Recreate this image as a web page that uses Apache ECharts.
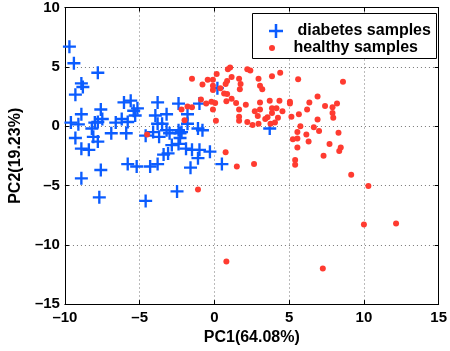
<!DOCTYPE html>
<html><head><meta charset="utf-8">
<script src="https://cdn.jsdelivr.net/npm/echarts@6/dist/echarts.min.js"></script>
<style>html,body{margin:0;padding:0;background:#fff}#c{width:450px;height:351px}</style>
</head><body><div id="c"></div>
<script>
const seriesNames = ['diabetes samples', 'healthy samples'];
const xTicks = [-10, -5, 0, 5, 10, 15];
const yTicks = [-15, -10, -5, 0, 5, 10];
const xName = 'PC1(64.08%)';
const yName = 'PC2(19.23%)';

const diabetes = [
  [-9.7,6.7],[-9.4,5.3],[-7.8,4.5],[-8.9,3.6],[-8.8,3.3],[-9.3,2.65],[-8.9,1.0],[-7.6,1.4],
  [-9.6,0.3],[-9.1,0.15],[-9.3,-1.0],[-8.9,-1.9],[-8.4,-2.0],[-8.2,-0.2],[-8.0,0.3],[-7.8,0.35],
  [-7.5,0.6],[-8.1,-0.9],[-7.8,-1.3],[-6.9,-0.6],[-6.6,0.3],[-6.2,0.6],[-6.05,2.0],[-5.6,2.15],
  [-5.4,1.3],[-5.8,0.35],[-5.9,-0.6],[-8.9,-4.4],[-7.6,-3.7],[-7.7,-6.0],[-5.8,-3.2],[-5.2,-3.4],
  [-4.3,-3.4],[-3.8,-3.2],[-4.6,-6.3],[-2.5,-5.5],[-3.8,2.0],[-2.4,1.9],[-1.0,1.9],[-3.95,0.9],
  [-3.2,1.0],[-3.8,0.2],[-4.1,-0.5],[-3.2,-0.35],[-2.4,-0.35],[-2.3,-0.6],[-2.4,-1.5],[-1.8,0.2],
  [-1.1,-0.2],[-0.8,-0.35],[-4.6,-0.8],[-3.7,-0.9],[-3.1,-2.3],[-3.4,-2.4],[-1.9,-1.9],[-1.5,-2.0],
  [-1.0,-2.0],[-0.3,-2.15],[-1.1,-2.7],[-1.6,-3.5],[0.2,3.2],[3.7,-0.2],[0.5,-3.2],[-5.15,1.5],
  [-5.3,0.9],[-3.5,0.2],[-3.0,-0.6],[-2.85,-1.6],[-2.2,-0.5],[-2.3,-1.0],[-1.8,1.0]
];
const healthy = [
  [-4.5,-0.7],[-1.1,-5.35],[-2.2,1.4],[-1.8,1.65],[-1.5,1.6],[-2.0,0.5],[-1.5,4.0],[-0.8,3.5],
  [-0.45,3.9],[-0.1,3.9],[0.15,4.4],[0.9,4.8],[1.05,4.95],[2.2,4.8],[2.4,4.7],[1.65,4.0],
  [0.85,3.8],[1.15,4.15],[0.4,3.2],[0.65,2.75],[0.85,2.7],[1.7,3.1],[-0.1,3.05],[-0.1,3.4],
  [0.75,3.55],[1.75,3.55],[-0.9,2.25],[-0.55,1.9],[-0.2,2.05],[0.05,1.95],[0.8,2.1],[1.15,2.3],
  [1.45,1.95],[2.1,1.8],[-0.1,1.4],[0.1,0.45],[1.65,1.4],[1.65,0.8],[1.65,0.45],[2.2,0.35],
  [2.55,0.1],[2.7,1.25],[3.05,1.4],[2.9,0.85],[2.95,0.2],[3.4,0.6],[3.75,0.2],[4.05,0.3],
  [3.55,0.75],[3.85,1.1],[3.85,1.5],[4.15,1.5],[4.25,0.7],[4.55,1.25],[4.35,2.15],[3.7,2.15],
  [3.05,2.0],[3.05,3.4],[3.2,3.1],[2.95,4.0],[3.85,4.2],[4.4,4.5],[0.75,-2.2],[1.5,-3.4],
  [2.65,-3.2],[5.05,2.05],[5.05,1.9],[6.35,2.0],[6.9,2.5],[5.6,3.95],[8.6,3.75],[6.2,1.4],
  [7.4,1.7],[7.9,1.6],[8.2,1.9],[7.9,1.1],[7.95,0.7],[5.15,0.8],[5.65,1.0],[6.9,0.55],
  [5.75,0.0],[6.65,-0.1],[7.0,-0.4],[5.55,-0.5],[6.15,-0.7],[8.3,-0.55],[5.25,-1.1],[5.55,-1.05],
  [6.3,-1.3],[7.7,-1.5],[8.45,-1.8],[8.35,-2.1],[5.55,-1.8],[7.3,-2.5],[5.4,-2.85],[5.4,-3.25],
  [9.15,-4.1],[10.3,-5.05],[10.0,-8.3],[12.15,-8.2],[7.25,-12.0],[0.8,-11.4]
];

const BLUE = '#0b5cff';
const RED = '#ff3b30';
const FONT = '"Liberation Sans", Arial, Helvetica, sans-serif';
const PLUS = 'path://M0.41,0H0.59V0.41H1V0.59H0.59V1H0.41V0.59H0V0.41H0.41Z';
const fmt = v => String(v).replace('-', '\u2013');

const mkAxis = (ticks, pos, main, extra) => Object.assign({
  type: 'value', position: pos, min: ticks[0], max: ticks[ticks.length - 1], interval: 5,
  axisLine: { show: true, onZero: false, lineStyle: { color: '#000', width: 1 } },
  axisTick: { show: true, inside: true, length: 4, lineStyle: { color: '#000' } },
  axisLabel: main ? { show: true, color: '#000', fontFamily: FONT, fontWeight: 'bold', fontSize: 15, formatter: fmt } : { show: false },
  splitLine: main ? { show: true, lineStyle: { color: '#777', type: [1, 3], width: 1 } } : { show: false }
}, extra || {});

const chart = echarts.init(document.getElementById('c'), null, { renderer: 'canvas' });
chart.setOption({
  animation: false,
  backgroundColor: '#fff',
  grid: { left: 63, right: 7, top: 7, bottom: 44 },
  xAxis: [
    mkAxis(xTicks, 'bottom', true, {
      name: xName, nameLocation: 'middle', nameGap: 22,
      nameTextStyle: { color: '#000', fontFamily: FONT, fontWeight: 'bold', fontSize: 16 },
      axisLabel: { show: true, color: '#000', fontFamily: FONT, fontWeight: 'bold', fontSize: 15, formatter: fmt, margin: 6 }
    }),
    mkAxis(xTicks, 'top', false)
  ],
  yAxis: [
    mkAxis(yTicks, 'left', true, {
      name: yName, nameLocation: 'middle', nameGap: 37,
      nameTextStyle: { color: '#000', fontFamily: FONT, fontWeight: 'bold', fontSize: 16 },
      axisLabel: { show: true, color: '#000', fontFamily: FONT, fontWeight: 'bold', fontSize: 15, formatter: fmt, margin: 5 }
    }),
    mkAxis(yTicks, 'right', false)
  ],
  graphic: [{
    type: 'rect', left: 252, top: 13, z: 90,
    shape: { width: 184, height: 45 },
    style: { fill: '#fff', stroke: '#000', lineWidth: 1 }
  }],
  legend: [
    {
      data: [{ name: seriesNames[0], icon: PLUS }], left: 269, top: 23, orient: 'vertical', padding: 0,
      itemWidth: 33, itemHeight: 14, symbolKeepAspect: true, z: 100,
      textStyle: { color: '#000', fontFamily: FONT, fontWeight: 'bold', fontSize: 16 }
    },
    {
      data: [{ name: seriesNames[1], icon: 'circle' }], left: 269, top: 40, orient: 'vertical', padding: 0,
      itemWidth: 33, itemHeight: 6, symbolKeepAspect: true, z: 100,
      textStyle: { color: '#000', fontFamily: FONT, fontWeight: 'bold', fontSize: 16 }
    }
  ],
  series: [
    {
      name: seriesNames[0], type: 'scatter', data: diabetes, symbol: PLUS, symbolSize: 13,
      itemStyle: { color: BLUE, opacity: 1 }, z: 2
    },
    {
      name: seriesNames[1], type: 'scatter', data: healthy, symbol: 'circle', symbolSize: 6,
      itemStyle: { color: RED, opacity: 1 }, z: 3
    }
  ]
});
</script>
</body></html>
